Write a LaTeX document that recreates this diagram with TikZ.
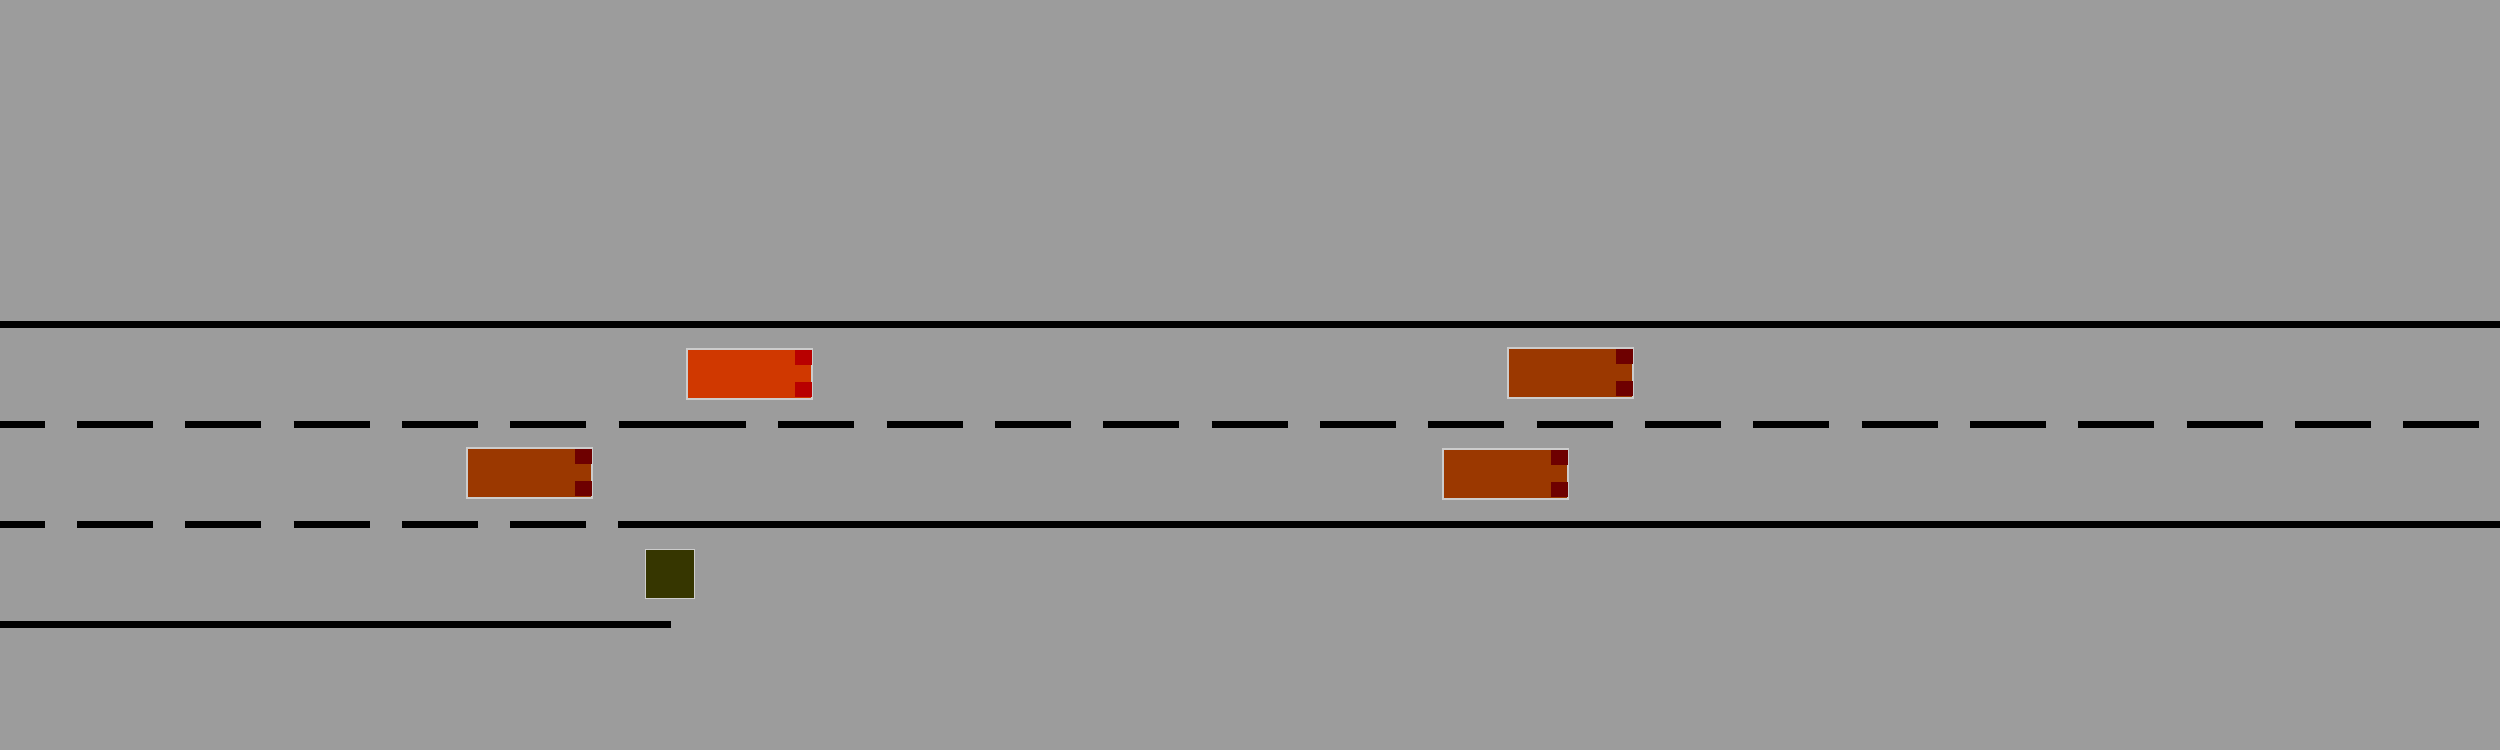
\documentclass[tikz,border=0pt]{standalone}
\usetikzlibrary{calc}
\definecolor{bg}{HTML}{9C9C9C}
\definecolor{edgegrey}{HTML}{CCCCCC}
\definecolor{carred}{HTML}{D03800}
\definecolor{carbrown}{HTML}{9B3800}
\definecolor{lampred}{HTML}{B80000}
\definecolor{lampdark}{HTML}{6E0000}
\definecolor{olive}{HTML}{363600}
\tikzset{
  road/.style={draw=black, line width=0.07cm},
  lanedash/.style={dash pattern=on 0.76cm off 0.3227cm},
  carbox/.style={rectangle, draw=edgegrey, line width=0.35pt, inner sep=0pt,
    minimum width=1.25cm, minimum height=0.5cm},
  pedbox/.style={rectangle, draw=edgegrey, line width=0.35pt, inner sep=0pt,
    minimum width=0.49cm, minimum height=0.49cm, fill=olive},
}
\begin{document}
\begin{tikzpicture}[x=0.01cm, y=-0.01cm]
\useasboundingbox (0,0) rectangle (2500,750);
\fill[bg] (0,0) rectangle (2500,750);
% road markings
\draw[road] (0,324.5) -- (2500,324.5);
\draw[road, lanedash, dash phase=0.3127cm] (0,424.5) -- (671,424.5);
\draw[road, lanedash, dash phase=0.3127cm] (0,524.5) -- (671,524.5);
\draw[road, lanedash] (670,424.5) -- (2500,424.5);
\draw[road] (618,524.5) -- (2500,524.5);
\draw[road] (0,624.5) -- (671,624.5);
% vehicles
\node[carbox, fill=carred] (c1) at (749.5,374) {};
\node[carbox, fill=carbrown] (c2) at (529.5,473) {};
\node[carbox, fill=carbrown] (c3) at (1570.5,373) {};
\node[carbox, fill=carbrown] (c4) at (1505.5,474) {};
\node[pedbox] (p1) at (670,574) {};
% lamps
\foreach \c/\col in {c1/lampred, c2/lampdark, c3/lampdark, c4/lampdark}{
  \fill[\col] ($(\c.north east)+(-18,2)$) rectangle +(17,15);
  \fill[\col] ($(\c.south east)+(-18,-18)$) rectangle +(17,15);
}
\end{tikzpicture}
\end{document}
